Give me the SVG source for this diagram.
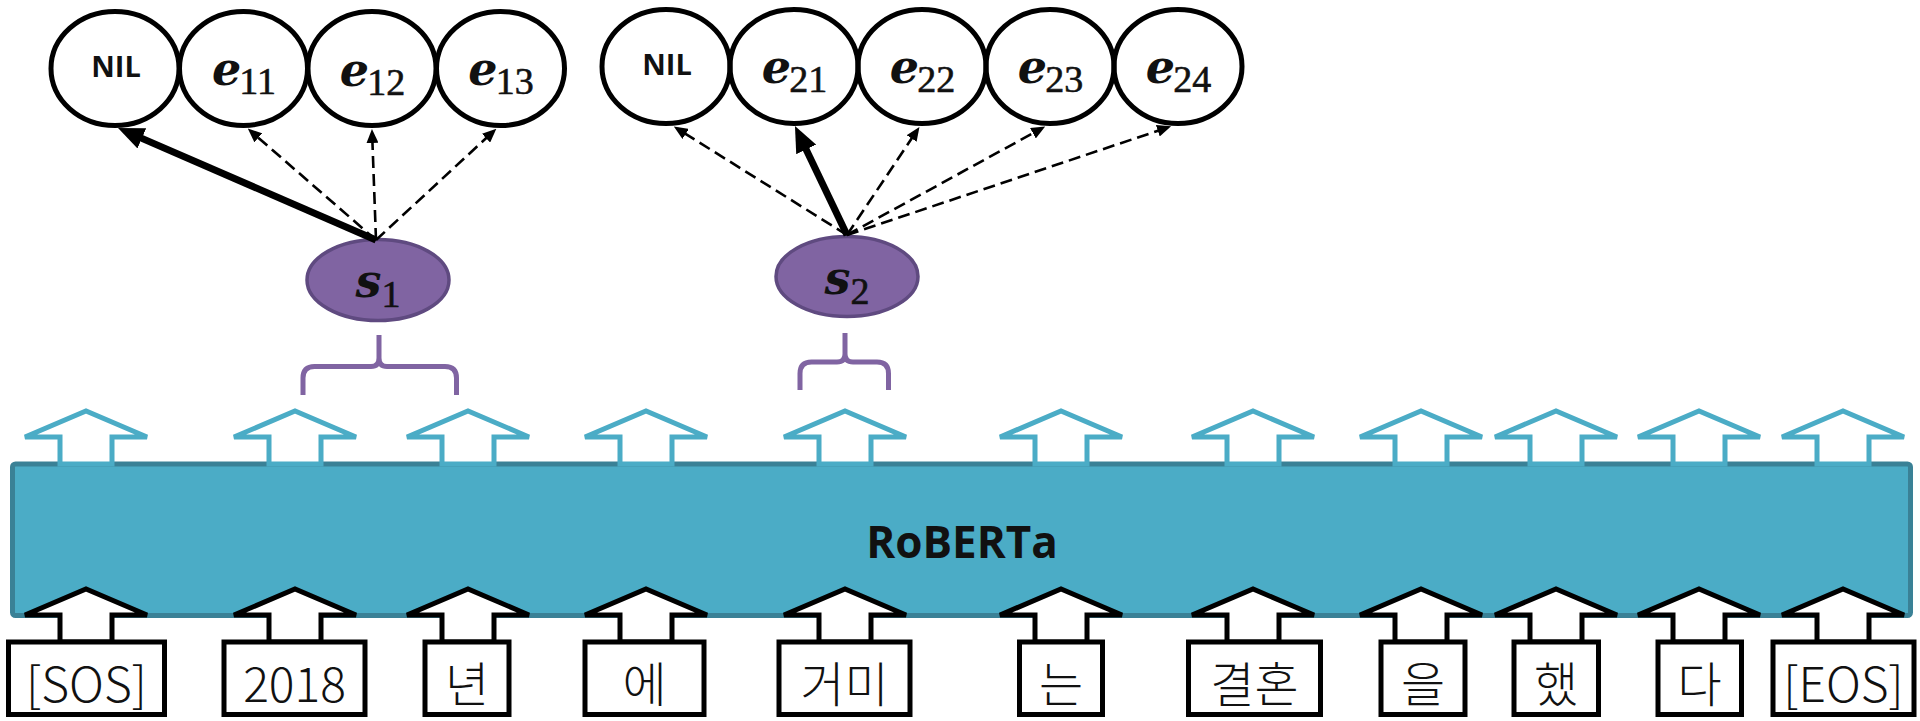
<svg xmlns="http://www.w3.org/2000/svg" width="1920" height="721" viewBox="0 0 1920 721">
<style>
.ent{fill:none;stroke:#000;stroke-width:5}
.nil{font-family:"Open Sans","Liberation Sans",sans-serif;font-weight:700;font-size:29px;text-anchor:middle;fill:#111}
.lbl{text-anchor:middle;fill:#111}
.mi{font-family:"DejaVu Serif","Liberation Serif",serif;font-style:italic;font-weight:700;font-size:46px}
.sub{font-family:"Liberation Serif","DejaVu Serif",serif;font-size:38px;stroke:#111;stroke-width:0.6}
.mention{fill:#8064A2;stroke:#5F4A80;stroke-width:3.5}
.brace{fill:none;stroke:#8064A2;stroke-width:5;stroke-linejoin:round}
.thick{stroke:#000;stroke-width:7;fill:none}
.dash{stroke:#000;stroke-width:2.6;fill:none;stroke-dasharray:12 6}
.outarr{fill:#fff;stroke:#4BACC6;stroke-width:5}
.inarr{fill:#fff;stroke:#000;stroke-width:5}
.tok{fill:#fff;stroke:#000;stroke-width:5}
.toktxt{font-family:"Noto Sans CJK KR","Noto Sans",sans-serif;font-weight:300;font-size:48px;text-anchor:middle;fill:#111}
</style>
<defs>
<marker id="headThick" markerUnits="userSpaceOnUse" viewBox="0 0 26 22" markerWidth="26" markerHeight="22" refX="15" refY="11" orient="auto"><path d="M0,0 L26,11 L0,22 Z" fill="#000"/></marker>
<marker id="headDash" markerUnits="userSpaceOnUse" viewBox="0 0 14 12" markerWidth="14" markerHeight="12" refX="10" refY="6" orient="auto"><path d="M0,0 L14,6 L0,12 Z" fill="#000"/></marker>
<path id="upArrow" d="M-26,0 V-27 H-61 L0,-53 L61,-27 H26 V0 Z"/>
</defs>

<g id="roberta">
<rect x="12.5" y="464" width="1898" height="151.5" rx="3" fill="#4BACC6" stroke="#3A8196" stroke-width="5"/>
<text x="962" y="558" font-family="Open Sans, Liberation Sans, sans-serif" font-weight="700" font-size="44" text-anchor="middle" fill="#111">RoBERTa</text>
</g>

<g id="output-arrows">
<use href="#upArrow" class="outarr" transform="translate(86,464)"/>
<use href="#upArrow" class="outarr" transform="translate(295,464)"/>
<use href="#upArrow" class="outarr" transform="translate(468,464)"/>
<use href="#upArrow" class="outarr" transform="translate(646,464)"/>
<use href="#upArrow" class="outarr" transform="translate(845,464)"/>
<use href="#upArrow" class="outarr" transform="translate(1061,464)"/>
<use href="#upArrow" class="outarr" transform="translate(1253,464)"/>
<use href="#upArrow" class="outarr" transform="translate(1421,464)"/>
<use href="#upArrow" class="outarr" transform="translate(1556,464)"/>
<use href="#upArrow" class="outarr" transform="translate(1699,464)"/>
<use href="#upArrow" class="outarr" transform="translate(1843,464)"/>
</g>

<g id="input-arrows">
<use href="#upArrow" class="inarr" transform="translate(86,642)"/>
<use href="#upArrow" class="inarr" transform="translate(295,642)"/>
<use href="#upArrow" class="inarr" transform="translate(468,642)"/>
<use href="#upArrow" class="inarr" transform="translate(646,642)"/>
<use href="#upArrow" class="inarr" transform="translate(845,642)"/>
<use href="#upArrow" class="inarr" transform="translate(1061,642)"/>
<use href="#upArrow" class="inarr" transform="translate(1253,642)"/>
<use href="#upArrow" class="inarr" transform="translate(1421,642)"/>
<use href="#upArrow" class="inarr" transform="translate(1556,642)"/>
<use href="#upArrow" class="inarr" transform="translate(1699,642)"/>
<use href="#upArrow" class="inarr" transform="translate(1843,642)"/>
</g>

<g id="tok-sos"><rect class="tok" x="8.5" y="642" width="156" height="72.5"/><text class="toktxt" x="86.5" y="702">[SOS]</text></g>
<g id="tok-2018"><rect class="tok" x="224" y="642" width="141" height="72.5"/><text class="toktxt" x="294.5" y="702">2018</text></g>
<g id="tok-nyeon"><rect class="tok" x="425" y="642" width="84" height="72.5"/><text class="toktxt" x="467" y="702">년</text></g>
<g id="tok-e"><rect class="tok" x="585" y="642" width="119" height="72.5"/><text class="toktxt" x="644.5" y="702">에</text></g>
<g id="tok-geomi"><rect class="tok" x="779" y="642" width="131" height="72.5"/><text class="toktxt" x="844.5" y="702">거미</text></g>
<g id="tok-neun"><rect class="tok" x="1019.5" y="642" width="83" height="72.5"/><text class="toktxt" x="1061" y="702">는</text></g>
<g id="tok-gyeolhon"><rect class="tok" x="1188.5" y="642" width="132" height="72.5"/><text class="toktxt" x="1254.5" y="702">결혼</text></g>
<g id="tok-eul"><rect class="tok" x="1381" y="642" width="84" height="72.5"/><text class="toktxt" x="1423" y="702">을</text></g>
<g id="tok-haess"><rect class="tok" x="1514" y="642" width="84.5" height="72.5"/><text class="toktxt" x="1556.2" y="702">했</text></g>
<g id="tok-da"><rect class="tok" x="1658" y="642" width="83.5" height="72.5"/><text class="toktxt" x="1699.7" y="702">다</text></g>
<g id="tok-eos"><rect class="tok" x="1773" y="642" width="141" height="72.5"/><text class="toktxt" x="1843.5" y="702">[EOS]</text></g>

<g id="brace1"><path class="brace" d="M303,395 V378 Q303,366.5 314.5,366.5 H371 Q379,366.5 379,358 V335 M379,358 Q379,366.5 387,366.5 H445 Q456.5,366.5 456.5,378 V395"/></g>
<g id="brace2"><path class="brace" d="M800,390 V373.5 Q800,362 811.5,362 H837 Q845,362 845,354 V333 M845,354 Q845,362 853,362 H877 Q888.5,362 888.5,373.5 V390"/></g>

<g id="s1"><ellipse class="mention" cx="378" cy="280" rx="71" ry="40.5"/><text class="lbl" x="378" y="297"><tspan class="mi">s</tspan><tspan class="sub" dy="10">1</tspan></text></g>
<g id="s2"><ellipse class="mention" cx="847" cy="276.5" rx="71" ry="40"/><text class="lbl" x="847" y="293.5"><tspan class="mi">s</tspan><tspan class="sub" dy="10">2</tspan></text></g>

<g id="nil1"><ellipse class="ent" cx="115" cy="68.5" rx="64" ry="57"/><text class="nil" x="116" y="77">NIL</text></g>
<g id="e11"><ellipse class="ent" cx="243.5" cy="68.5" rx="64" ry="57"/><text class="lbl" x="244" y="85"><tspan class="mi">e</tspan><tspan class="sub" dx="-2" dy="9">11</tspan></text></g>
<g id="e12"><ellipse class="ent" cx="372" cy="68.5" rx="64" ry="57"/><text class="lbl" x="372.5" y="86"><tspan class="mi">e</tspan><tspan class="sub" dx="-2" dy="9">12</tspan></text></g>
<g id="e13"><ellipse class="ent" cx="500.5" cy="68.5" rx="64" ry="57"/><text class="lbl" x="501" y="85"><tspan class="mi">e</tspan><tspan class="sub" dx="-2" dy="9">13</tspan></text></g>

<g id="nil2"><ellipse class="ent" cx="666" cy="66.5" rx="64" ry="57"/><text class="nil" x="667" y="75">NIL</text></g>
<g id="e21"><ellipse class="ent" cx="794" cy="66.5" rx="64" ry="57"/><text class="lbl" x="794.5" y="83"><tspan class="mi">e</tspan><tspan class="sub" dx="-2" dy="9">21</tspan></text></g>
<g id="e22"><ellipse class="ent" cx="922" cy="66.5" rx="64" ry="57"/><text class="lbl" x="922.5" y="83"><tspan class="mi">e</tspan><tspan class="sub" dx="-2" dy="9">22</tspan></text></g>
<g id="e23"><ellipse class="ent" cx="1050" cy="66.5" rx="64" ry="57"/><text class="lbl" x="1050.5" y="83"><tspan class="mi">e</tspan><tspan class="sub" dx="-2" dy="9">23</tspan></text></g>
<g id="e24"><ellipse class="ent" cx="1178" cy="66.5" rx="64" ry="57"/><text class="lbl" x="1178.5" y="83"><tspan class="mi">e</tspan><tspan class="sub" dx="-2" dy="9">24</tspan></text></g>

<g id="connectors">
<line class="thick" x1="376" y1="240" x2="128.1" y2="132.4" marker-end="url(#headThick)"/>
<line class="dash" x1="376" y1="240" x2="250.8" y2="131.2" marker-end="url(#headDash)"/>
<line class="dash" x1="376" y1="240" x2="372.1" y2="133" marker-end="url(#headDash)"/>
<line class="dash" x1="376" y1="240" x2="493.4" y2="131.4" marker-end="url(#headDash)"/>
<line class="dash" x1="847" y1="235" x2="677.2" y2="128.6" marker-end="url(#headDash)"/>
<line class="thick" x1="847" y1="235" x2="799.7" y2="135.9" marker-end="url(#headThick)"/>
<line class="dash" x1="847" y1="235" x2="917.2" y2="130.2" marker-end="url(#headDash)"/>
<line class="dash" x1="847" y1="235" x2="1041.7" y2="128.4" marker-end="url(#headDash)"/>
<line class="dash" x1="847" y1="235" x2="1167.3" y2="127.6" marker-end="url(#headDash)"/>
</g>
</svg>
